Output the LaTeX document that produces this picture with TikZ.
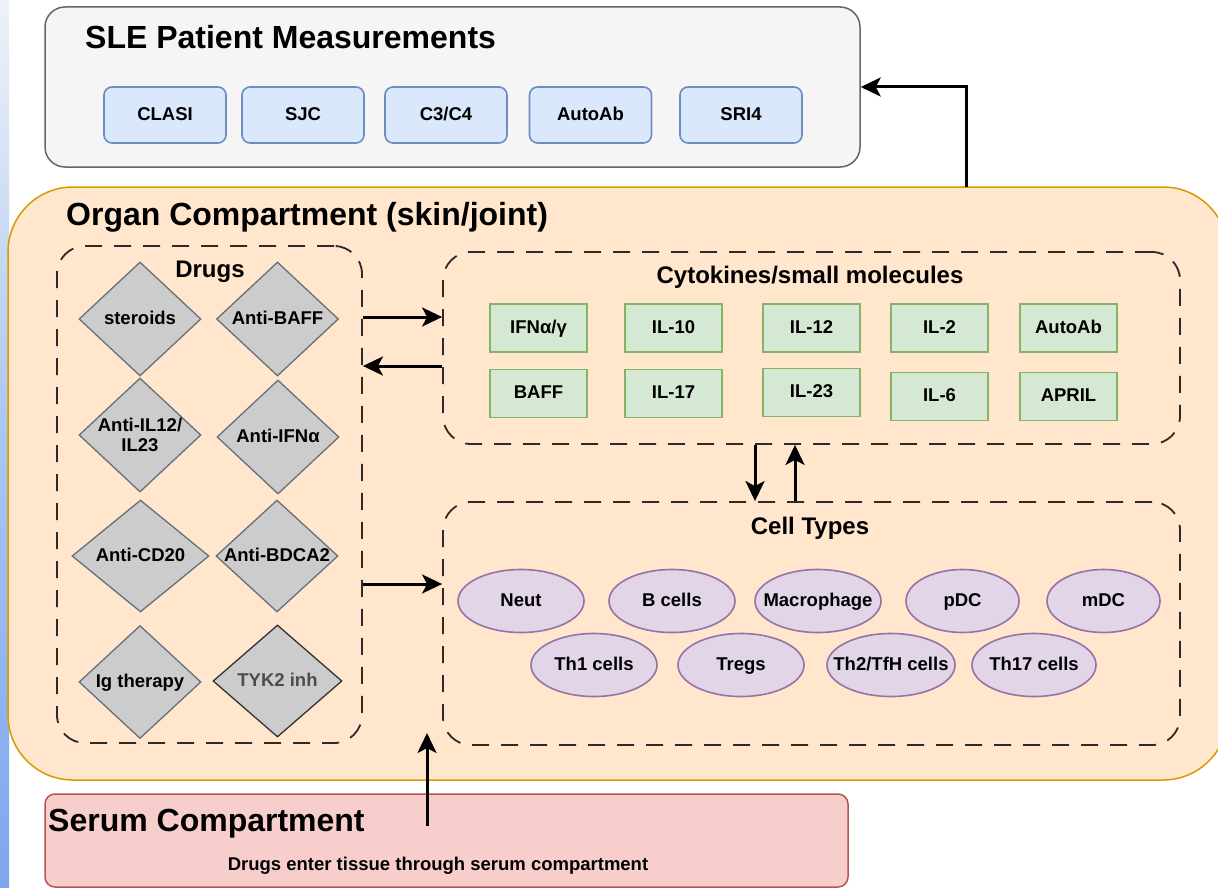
\documentclass[tikz,border=0pt]{standalone}
\usepackage{fontspec}
\setmainfont{Liberation Sans}
\usetikzlibrary{shapes.geometric,arrows.meta}

\definecolor{slefill}{HTML}{F5F5F5}
\definecolor{sleline}{HTML}{666666}
\definecolor{measfill}{HTML}{DAE8FC}
\definecolor{measline}{HTML}{6C8EBF}
\definecolor{orgfill}{HTML}{FFE6CC}
\definecolor{orgline}{HTML}{D79B00}
\definecolor{serfill}{HTML}{F8CECC}
\definecolor{serline}{HTML}{B85450}
\definecolor{cytofill}{HTML}{D5E8D4}
\definecolor{cytoline}{HTML}{82B366}
\definecolor{cellfill}{HTML}{E1D5E7}
\definecolor{cellline}{HTML}{9673A6}
\definecolor{drugfill}{HTML}{CCCCCC}
\definecolor{drugline}{HTML}{66707A}
\definecolor{dashcol}{HTML}{2B2B2B}
\definecolor{tyktext}{HTML}{4D4D4D}
\definecolor{stripA}{HTML}{EEF2F8}
\definecolor{stripB}{HTML}{A9C5F2}
\definecolor{stripC}{HTML}{7EA6EE}

\begin{document}
\begin{tikzpicture}[x=1pt,y=-1pt,
  bigtitle/.style={font=\fontsize{32}{38}\selectfont\bfseries, inner sep=0pt},
  subtitle/.style={font=\fontsize{24}{28}\selectfont\bfseries, inner sep=0pt},
  lbltext/.style={font=\fontsize{18.5}{20}\selectfont\bfseries, inner sep=0pt},
  lbl/.style={lbltext, text height=13.5pt, text depth=3pt},
  container/.style={draw, line width=1.5pt, inner sep=0pt},
  dashgroup/.style={draw=dashcol, line width=1.8pt, dash pattern=on 17pt off 12pt,
    rounded corners=28pt, inner sep=0pt},
  meas/.style={lbl, draw=measline, fill=measfill, line width=1.6pt, rounded corners=8pt,
    minimum width=122pt, minimum height=56pt},
  cyto/.style={lbl, draw=cytoline, fill=cytofill, line width=1.3pt,
    minimum width=97pt, minimum height=48pt},
  cellnode/.style={ellipse, draw=cellline, fill=cellfill, line width=1.6pt,
    minimum width=126pt, minimum height=63pt, inner sep=0pt, label={[lbl]center:#1}},
  drugshape/.style={diamond, draw=drugline, fill=drugfill, line width=1.3pt,
    minimum width=122pt, minimum height=114pt, inner sep=0pt},
  drug/.style={drugshape, label={[lbl]center:#1}},
  arr/.style={line width=3pt, -{Stealth[length=20pt, width=19pt, inset=5pt]}}
]
\useasboundingbox (0,0) rectangle (1218,888);
\fill[white] (0,0) rectangle (1218,888);
% tinted strip along the left edge
\shade[top color=stripA, bottom color=stripC, middle color=stripB] (0,0) rectangle (9,888);

% --- patient measurements ---
\node[container, draw=sleline, fill=slefill, rounded corners=20pt,
  minimum width=815pt, minimum height=160pt] (sle) at (452.5,87) {};
\node[bigtitle, anchor=west] (sletitle) at (85,37) {SLE Patient Measurements};
\node[meas] (clasi)  at (165,115)   {CLASI};
\node[meas] (sjc)    at (303,115)   {SJC};
\node[meas] (c3c4)   at (446,115)   {C3/C4};
\node[meas] (mauto)  at (590.5,115) {AutoAb};
\node[meas] (sri4)   at (741,115)   {SRI4};

% --- organ compartment ---
\node[container, draw=orgline, fill=orgfill, rounded corners=65pt,
  minimum width=1220pt, minimum height=593pt] (organ) at (618,483.5) {};
\node[bigtitle, anchor=west] (orgtitle) at (66,217) {Organ Compartment (skin/joint)};

% drugs group
\node[dashgroup, minimum width=305pt, minimum height=497pt] (drugs) at (209.5,494.5) {};
\node[subtitle] (drugstitle) at (210,272) {Drugs};
\node[drug=steroids]   (steroids) at (140,319)   {};
\node[drug=Anti-BAFF]  (antibaff) at (277.5,319) {};
\node[drugshape, label={[lbltext, align=center]center:{Anti-IL12/\\IL23}}] (antiil) at (140,435) {};
\node[drug=Anti-IFNα] (antiifn) at (278,437) {};
\node[drug=Anti-CD20, minimum width=137pt, minimum height=112pt] (anticd) at (140.5,556) {};
\node[drug=Anti-BDCA2, minimum height=112pt] (antibdca) at (277,556) {};
\node[drug=Ig therapy, minimum height=113pt] (igther) at (140,682) {};
\node[drugshape, draw=black!80, minimum width=129pt, minimum height=112pt,
  label={[lbl, text=tyktext]center:TYK2 inh}] (tyk) at (277.5,681) {};

% cytokines group
\node[dashgroup, minimum width=737pt, minimum height=192pt] (cytos) at (811.5,348) {};
\node[subtitle] (cytotitle) at (810,277) {Cytokines/small molecules};
\node[cyto] (ifn)   at (538.5,328)  {IFNα/γ};
\node[cyto] (il10)  at (673.5,328)  {IL-10};
\node[cyto] (il12)  at (811.5,328)  {IL-12};
\node[cyto] (il2)   at (939.5,328)  {IL-2};
\node[cyto] (cauto) at (1068.5,328) {AutoAb};
\node[cyto] (baff)  at (538.5,393.5)  {BAFF};
\node[cyto] (il17)  at (673.5,393.5)  {IL-17};
\node[cyto] (il23)  at (811.5,392.5)  {IL-23};
\node[cyto] (il6)   at (939.5,396.5)  {IL-6};
\node[cyto] (april) at (1068.5,396.5) {APRIL};

% cell types group
\node[dashgroup, minimum width=737pt, minimum height=243pt] (cells) at (811.5,623.5) {};
\node[subtitle] (celltitle) at (810,528) {Cell Types};
\node[cellnode=Neut]       (neut)  at (521,601)    {};
\node[cellnode=B cells]    (bcell) at (672,601)    {};
\node[cellnode=Macrophage] (macro) at (818,601)    {};
\node[cellnode=pDC, minimum width=113pt] (pdc) at (962.5,601) {};
\node[cellnode=mDC, minimum width=113pt] (mdc) at (1103.5,601) {};
\node[cellnode=Th1 cells]  (th1)   at (594,665)    {};
\node[cellnode=Tregs]      (tregs) at (741,665)    {};
\node[cellnode=Th2/TfH cells, minimum width=128pt] (th2) at (891,665) {};
\node[cellnode=Th17 cells, minimum width=124pt] (th17) at (1034,665) {};

% --- serum compartment ---
\node[container, draw=serline, fill=serfill, rounded corners=10pt,
  minimum width=803pt, minimum height=93pt] (serum) at (446.5,840.5) {};
\node[bigtitle, anchor=west] (sertitle) at (48,824) {Serum Compartment};
\node[lbl] (sernote) at (438,865) {Drugs enter tissue through serum compartment};

% --- connectors ---
\coordinate (orgtap) at (966,187);
\draw[arr] (orgtap) |- (sle.east);

\coordinate (rowA) at (0,317);
\coordinate (rowB) at (0,366);
\coordinate (rowC) at (0,584);
\draw[arr] (drugs.east |- rowA) -- (cytos.west |- rowA);
\draw[arr] (cytos.west |- rowB) -- (drugs.east |- rowB);
\draw[arr] (drugs.east |- rowC) -- (cells.west |- rowC);

\coordinate (colA) at (755,0);
\coordinate (colB) at (795,0);
\draw[arr] (cytos.south -| colA) -- (cells.north -| colA);
\draw[arr] (cells.north -| colB) -- (cytos.south -| colB);

\coordinate (sertail) at (427,826);
\coordinate (sertip) at (427,733);
\draw[arr] (sertail) -- (sertip);
\end{tikzpicture}
\end{document}
